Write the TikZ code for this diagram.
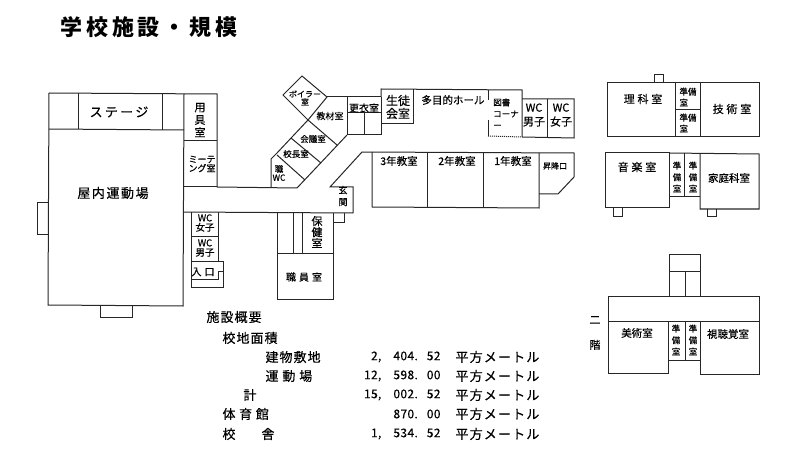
\documentclass[tikz,border=0pt]{standalone}
\usepackage{fontspec}
\newfontfamily\jp[FakeBold=0.4]{Noto Sans CJK JP}
\newfontfamily\jptitle{Noto Sans CJK JP}
\newcommand{\fs}[1]{\fontsize{#1}{#1}\selectfont}
\newcommand{\cg}{,\hspace{12pt}}
\newcommand{\pg}{.\hspace{9pt}}
\tikzset{every picture/.style={line width=1pt}}

\begin{document}
\begin{tikzpicture}[x=1pt,y=-1pt,
        room/.style={inner sep=0pt,align=center,font=\jp\fs{#1}},
        wide/.style 2 args={inner sep=0pt,align=center,font={\jp\fs{#1}\addfontfeature{LetterSpace=#2}}},
        vert/.style 2 args={inner sep=0pt,align=center,font={\jp\fontsize{#1}{#2}\selectfont}},
        info/.style={inner sep=0pt,anchor=west,font={\jp\fs{13}\addfontfeature{LetterSpace=#1}}},
        area/.style={inner sep=0pt,anchor=east,font={\jp\fs{12}\addfontfeature{LetterSpace=3}}},
        wall/.style={draw=black!85,line join=miter}]
    \useasboundingbox (0,0) rectangle (800,473);

    % title
    \node[inner sep=0pt,font={\jptitle\bfseries\fs{22}\addfontfeature{LetterSpace=18}}] (title) at (149,27) {学校施設・規模};

    % gym
    \draw[wall] (49,93) -- (217,94) -- (217,187) -- (297,188);
    \draw[wall] (49,93) -- (48,305) -- (183,306) -- (184,94);
    \draw[wall] (49,129) -- (184,130);
    \draw[wall] (78,93) -- (78,129) (162,94) -- (162,130);
    \draw[wall] (184,141) -- (217,141);
    \draw[wall] (48,203) -- (37,203) -- (37,234) -- (48,234);
    \draw[wall] (100,305) -- (100,317) -- (132,317) -- (132,306);

    % corridor and wc block
    \draw[wall] (184,187) -- (217,187);
    \draw[wall] (183,212) -- (353,213);
    \draw[wall] (191,212) -- (191,287) -- (223,287) -- (223,261) -- (191,261);
    \draw[wall] (218,212) -- (218,261);
    \draw[wall] (191,236) -- (218,236);
    \draw[wall] (191,279) -- (218,279) -- (218,271) -- (223,271);

    % staff rooms
    \draw[wall] (277,213) -- (277,299) -- (333,299) -- (333,213);
    \draw[wall] (277,253) -- (333,253);
    \draw[wall] (293,213) -- (293,253) (302,213) -- (302,253);
    \draw[wall] (344,213) -- (344,222) -- (333,222);

    % entrance and classrooms
    \draw[wall] (353,213) -- (353,187) -- (330,187) -- (362,152) -- (574,153) -- (574,177) -- (558,194) -- (539,194);
    \draw[wall] (372,152) -- (372,207) -- (539,208) -- (539,153);
    \draw[wall] (427,153) -- (427,207) (483,153) -- (483,208);

    % diagonal wing
    \draw[wall] (271,188) -- (271,159) -- (277,153) -- (308,120);
    \draw[wall] (297,188) -- (347,135);
    \draw[wall] (308,120) -- (283,95) -- (302,76) -- (327,97) -- (308,120);
    \draw[wall] (308,120) -- (337,145);
    \draw[wall] (291,138) -- (321,163);
    \draw[wall] (277,155) -- (305,180);
    \draw[wall] (327,97) -- (381,97);
    \draw[wall] (347,97) -- (347,135) -- (381,135) -- (381,97);
    \draw[wall] (347,113) -- (381,113) (364,113) -- (364,135);

    % hall
    \draw[wall] (381,97) -- (381,89) -- (522,90) -- (522,137);
    \draw[wall] (381,124) -- (413,124) -- (413,89);
    \draw[wall] (488,90) -- (488,100) (488,120) -- (488,136);
    \draw[wall,densely dotted] (488,136) -- (522,137);
    \draw[wall] (522,99) -- (574,99) -- (574,138) -- (522,137);
    \draw[wall] (547,99) -- (547,138);

    % science block
    \draw[wall] (607,83) rectangle (759,137);
    \draw[wall] (675,83) -- (675,137) (700,83) -- (700,137) (675,110) -- (700,110);
    \draw[wall] (654,83) -- (654,75) -- (663,75) -- (663,83);

    % music block
    \draw[wall] (669,197) -- (700,197);
    \draw[wall] (605,153) rectangle (669,208);
    \draw[wall] (669,153) -- (759,154) -- (759,209) -- (700,209) -- (700,154);
    \draw[wall] (684,153) -- (684,197);
    \draw[wall] (613,208) -- (613,216) -- (622,216) -- (622,208);
    \draw[wall] (707,209) -- (707,216) -- (716,216) -- (716,209);

    % second floor
    \draw[wall] (669,296) -- (669,254) -- (700,254) -- (700,296);
    \draw[wall] (669,271) -- (700,271) (685,271) -- (685,296);
    \draw[wall] (608,296) -- (759,296) -- (759,374) -- (700,374) -- (700,321);
    \draw[wall] (608,296) -- (608,373) -- (668,373) -- (668,321);
    \draw[wall] (608,321) -- (759,321);
    \draw[wall] (668,360) -- (700,360) (685,321) -- (685,360);

    % room names
    \node[wide={13}{18}] (stage) at (119,112) {ステージ};
    \node[vert={11}{12.5}] (tool) at (200,120) {用\\具\\室};
    \node[room=9] (meeting) at (202,164) {ミーテ\\ング室};
    \node[wide={13}{12}] (gymfloor) at (113,193) {屋内運動場};
    \node[room=9.5] (wcf) at (205,223) {WC\\女子};
    \node[room=9.5] (wcm) at (205,248) {WC\\男子};
    \node[wide={10}{30}] (entry) at (203,272) {入口};
    \node[room=8] (boiler) at (305,98) {ボイラー\\室};
    \node[room=9] (material) at (330,116) {教材室};
    \node[room=10] (locker) at (364,108) {更衣室};
    \node[vert={12}{13}] (council) at (398,107) {生徒\\会室};
    \node[room=10.5] (hallname) at (453,100) {多目的ホール};
    \node[vert={8.5}{11.5},align=left] (library) at (506,113.5) {図書\\コーナ\\ー};
    \node[vert={11}{14}] (wcm2) at (534,115) {WC\\男子};
    \node[vert={11}{14}] (wcf2) at (561,115) {WC\\女子};
    \node[room=10.5] (third) at (399,161) {3年教室};
    \node[room=10.5] (second) at (457,161) {2年教室};
    \node[room=10.5] (first) at (513,161) {1年教室};
    \node[room=8] (shoes) at (555,166) {昇降口};
    \node[vert={9}{12}] (porch) at (343,196) {玄\\関};
    \node[vert={11}{11}] (health) at (317,232) {保\\健\\室};
    \node[wide={10}{30}] (staff) at (304,277) {職員室};
    \node[room=8.5] (head) at (296,154) {校長室};
    \node[room=8.5] (conf) at (313,139) {会議室};
    \node[room=8.5] (staffwc) at (279,173) {職\\WC};
    \node[wide={11}{25}] (science) at (643,99) {理科室};
    \node[wide={11}{25}] (tech) at (732,109) {技術室};
    \node[vert={8.5}{11},align=left] (prepa) at (688,97) {準備\\室};
    \node[vert={8.5}{11},align=left] (prepb) at (688,123) {準備\\室};
    \node[wide={11}{25}] (music) at (637,167) {音楽室};
    \node[wide={10.5}{0}] (home) at (729,178) {家庭科室};
    \node[wide={10.5}{0}] (art) at (637,333) {美術室};
    \node[wide={10.5}{0}] (av) at (728,334) {視聴覚室};
    \foreach \px/\py/\pname in {677/177/prepc,693/177/prepd,676/340/prepe,693/340/prepf}
        \node[vert={8.5}{11.5}] (\pname) at (\px,\py) {準\\備\\室};
    \node[vert={11}{11}] (floortwo) at (595,333) {二\\[14pt]階};

    % summary
    \node[info=8] (sum) at (206,317) {施設概要};
    \node[info=8] (site) at (222,338) {校地面積};
    \node[info=8] (bldg) at (265,357) {建物敷地};
    \node[info=30] (ground) at (265,376) {運動場};
    \node[info=0] (total) at (243,395) {計};
    \node[info=28] (hallarea) at (222,414) {体育館};
    \node[info=0] (schoola) at (222,434) {校};
    \node[info=0] (schoolb) at (261,434) {舎};
    \foreach \ry/\rnum/\rname in {357/{2\cg 404\pg 52}/ra,376/{12\cg 598\pg 00}/rb,395/{15\cg 002\pg 52}/rc,414/{870\pg 00}/rd,434/{1\cg 534\pg 52}/re}{
        \node[area] (\rname) at (441,\ry) {\rnum};
        \node[info=9] (unit\rname) at (455,\ry) {平方メートル};
    }
\end{tikzpicture}
\end{document}
